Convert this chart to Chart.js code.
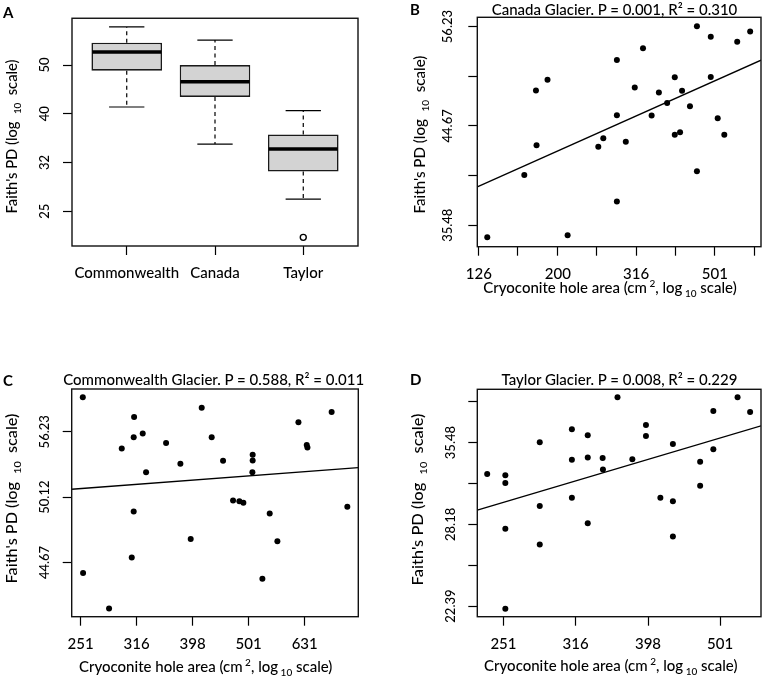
<!DOCTYPE html>
<html>
<head>
<meta charset="utf-8">
<title>Faith's PD and cryoconite hole area</title>
<script src="https://cdn.jsdelivr.net/npm/chart.js@4.4.1/dist/chart.umd.min.js"></script>
<style>
  html, body { margin: 0; padding: 0; background: #fff; }
  #fig { position: relative; width: 765px; height: 679px; overflow: hidden; font-family: Lato, sans-serif; font-weight: 500; color: #000; }
  #fig canvas { position: absolute; }
  .txt { position: absolute; white-space: nowrap; line-height: 1; font-size: 15px; }
  .letter { font-weight: 700; font-size: 15px; }
  .mid { transform: translate(-50%, -50%); }
  .ytitle { transform-origin: 50% 50%; }
  sub, sup { font-size: 10px; line-height: 0; }
</style>
</head>
<body>
<div id="fig">
  <canvas id="chartA" width="380" height="330" style="left:0;top:0"></canvas>
  <canvas id="chartB" width="385" height="330" style="left:380px;top:0"></canvas>
  <canvas id="chartC" width="380" height="349" style="left:0;top:330px"></canvas>
  <canvas id="chartD" width="385" height="349" style="left:380px;top:330px"></canvas>

  <div class="txt letter" style="left:3px;top:4.5px">A</div>
  <div class="txt letter" style="left:410px;top:1.5px">B</div>
  <div class="txt letter" style="left:3px;top:372.5px">C</div>
  <div class="txt letter" style="left:410px;top:371.5px">D</div>

  <div class="txt mid" style="left:614.5px;top:8.5px">Canada Glacier. P = 0.001, R² = 0.310</div>
  <div class="txt mid" style="left:213.7px;top:378.5px">Commonwealth Glacier. P = 0.588, R² = 0.011</div>
  <div class="txt mid" style="left:619.5px;top:378.5px">Taylor Glacier. P = 0.008, R² = 0.229</div>

  <div class="txt mid" style="left:610px;top:286.5px">Cryoconite hole area (cm<sup>&nbsp;2</sup>, log<sub>&nbsp;10</sub> scale)</div>
  <div class="txt mid" style="left:205.7px;top:666px">Cryoconite hole area (cm<sup>&nbsp;2</sup>, log<sub>&nbsp;10</sub> scale)</div>
  <div class="txt mid" style="left:610.8px;top:665px">Cryoconite hole area (cm<sup>&nbsp;2</sup>, log<sub>&nbsp;10</sub> scale)</div>

  <div class="txt ytitle" data-cx="11" data-cy="136" data-len="154">Faith's PD (log&nbsp;&nbsp;<sub>10</sub>&nbsp;&nbsp;scale)</div>
  <div class="txt ytitle" data-cx="419" data-cy="134" data-len="158">Faith's PD (log&nbsp;&nbsp;<sub>10</sub>&nbsp;&nbsp;scale)</div>
  <div class="txt ytitle" data-cx="11" data-cy="498" data-len="170">Faith's PD (log&nbsp;&nbsp;<sub>10</sub>&nbsp;&nbsp;scale)</div>
  <div class="txt ytitle" data-cx="417.5" data-cy="499" data-len="172">Faith's PD (log&nbsp;&nbsp;<sub>10</sub>&nbsp;&nbsp;scale)</div>
</div>

<script>
/* =============================================
   DATA
   ============================================= */
// Panel A: box plot summary per glacier (Faith's PD)
const groups   = ['Commonwealth', 'Canada', 'Taylor'];
const boxLow   = [41.1, 34.5, 26.6];
const boxQ1    = [48.8, 43.1, 30.3];
const boxMed   = [53.3, 46.3, 33.7];
const boxQ3    = [55.7, 50.1, 36.1];
const boxHigh  = [60.0, 56.4, 40.4];
const outlierGroup = [3];
const outlierPD    = [22.2];
const aYTicks  = [25.12, 31.62, 39.81, 50.12];
const aYLabels = ['25', '32', '40', '50'];

// Panel B: Canada Glacier
const canadaArea = [132.4, 164.4, 176.0, 176.6, 188.3, 211.8, 253.4, 260.9, 282.5, 282.5,
                    282.5, 297.6, 313.6, 329.1, 346.1, 361.1, 379.0, 396.3, 396.3, 408.7,
                    413.5, 433.1, 451.1, 451.1, 489.1, 489.1, 509.4, 529.4, 570.9, 615.8];
const canadaPD   = [34.50, 39.87, 48.48, 42.72, 49.70, 34.67, 42.55, 43.41, 52.05, 45.79,
                    37.49, 43.05, 48.83, 53.48, 45.76, 48.26, 47.11, 50.01, 43.75, 44.02,
                    48.45, 46.75, 56.27, 40.21, 54.91, 50.04, 45.47, 43.75, 54.28, 55.59];
const bXTicks  = [126, 158, 200, 251, 316, 398, 501, 631];
const bXLabels = ['126', '', '200', '', '316', '', '501', ''];
const bYTicks  = [35.48, 39.81, 44.67, 50.12, 56.23];
const bYLabels = ['35.48', '', '44.67', '', '56.23'];

// Panel C: Commonwealth Glacier
const cwArea = [253.3, 253.6, 282.2, 297.3, 309.8, 312.3, 312.8, 312.3, 324.1, 328.6,
                356.8, 378.4, 394.8, 413.1, 430.4, 451.0, 469.9, 482.3, 490.3, 508.8,
                509.4, 509.4, 530.2, 546.4, 563.9, 614.9, 636.3, 638.1, 704.9, 751.9];
const cwPD   = [59.75, 43.84, 41.19, 54.60, 45.07, 55.68, 57.70, 48.87, 56.07, 52.37,
                55.12, 53.15, 46.55, 58.67, 55.69, 53.43, 49.83, 49.75, 49.63, 52.37,
                53.46, 53.99, 43.41, 48.70, 46.38, 57.17, 54.94, 54.69, 58.23, 49.28];
const cXTicks  = [251, 316, 398, 501, 631];
const cXLabels = ['251', '316', '398', '501', '631'];
const cYTicks  = [44.67, 50.12, 56.23];
const cYLabels = ['44.67', '50.12', '56.23'];

// Panel D: Taylor Glacier
const taylorArea = [238.3, 252.5, 252.5, 252.5, 252.5, 281.8, 281.8, 281.8, 312.2, 312.2,
                    312.2, 328.4, 328.4, 328.4, 344.4, 344.7, 361.1, 378.6, 395.4, 395.4,
                    414.0, 430.9, 430.9, 430.9, 470.0, 470.0, 490.2, 490.2, 529.6, 551.2];
const taylorPD   = [32.47, 32.36, 31.66, 27.84, 22.22, 35.50, 29.68, 26.63, 36.83, 33.81,
                    30.38, 36.21, 34.03, 28.26, 33.97, 32.90, 40.30, 33.84, 37.28, 36.14,
                    30.38, 35.33, 30.07, 27.24, 33.62, 31.42, 38.78, 34.81, 40.30, 38.67];
const dXTicks  = [251, 316, 398, 501];
const dXLabels = ['251', '316', '398', '501'];
const dYTicks  = [22.39, 25.12, 28.18, 31.62, 35.48, 39.81];
const dYLabels = ['22.39', '', '28.18', '', '35.48', ''];

/* =============================================
   LAYOUT (plot area inside each canvas + axis limits)
   ============================================= */
const FONT = 'Lato';
const WEIGHT = 500;
const X_TICK_SIZE = 15;
const Y_TICK_SIZE = 13;
const TICK_LEN = 9;

const geoA = { w: 380, h: 330, left: 72,   top: 17,   right: 358,   bottom: 246,   yLabOff: 27 };
const geoB = { w: 385, h: 330, left: 97.3, top: 17.3, right: 383.5, bottom: 246.7, yLabOff: 29 };
const geoC = { w: 380, h: 349, left: 71.7, top: 59,   right: 358.3, bottom: 286.7, yLabOff: 26.5 };
const geoD = { w: 385, h: 349, left: 97.3, top: 59.3, right: 383.3, bottom: 286.7, yLabOff: 26.5 };

const rangeA = { x: [0.38, 3.62],   y: [21.31, 62.52] };
const rangeB = { x: [124.9, 656.1], y: [33.76, 57.45] };
const rangeC = { x: [242.0, 786.6], y: [40.60, 60.63] };
const rangeD = { x: [230.9, 570.7], y: [21.73, 41.22] };

/* =============================================
   HELPERS
   ============================================= */
const measureCtx = document.createElement('canvas').getContext('2d');
function textWidth(str, size) {
  measureCtx.font = `${WEIGHT} ${size}px ${FONT}`;
  return measureCtx.measureText(str).width;
}

// least squares line in log-log space, drawn across the whole x range
function fitLine(xs, ys, xMin, xMax) {
  const lx = xs.map(Math.log10), ly = ys.map(Math.log10);
  const n = lx.length;
  const mx = lx.reduce((a, b) => a + b, 0) / n;
  const my = ly.reduce((a, b) => a + b, 0) / n;
  let sxy = 0, sxx = 0;
  for (let i = 0; i < n; i++) {
    sxy += (lx[i] - mx) * (ly[i] - my);
    sxx += (lx[i] - mx) ** 2;
  }
  const slope = sxy / sxx, icpt = my - slope * mx;
  return [xMin, xMax].map(x => ({ x, y: Math.pow(10, icpt + slope * Math.log10(x)) }));
}

const tickGrid = {
  display: true, drawOnChartArea: false, drawTicks: true, offset: false,
  tickLength: TICK_LEN, tickColor: '#000', tickWidth: 1.2,
};

function xAxis(type, range, ticks, labels, geo) {
  return {
    type, min: range[0], max: range[1], bounds: 'data', offset: false,
    afterBuildTicks: s => { s.ticks = ticks.map(v => ({ value: v })); },
    afterFit: s => { s.height = geo.h - geo.bottom; },
    grid: tickGrid,
    border: { display: false },
    ticks: {
      autoSkip: false, minRotation: 0, maxRotation: 0, padding: 9, color: '#000',
      font: { family: FONT, size: X_TICK_SIZE, weight: WEIGHT },
      callback: (v, i) => labels[i],
    },
  };
}

function yAxis(range, ticks, labels, geo) {
  const widest = Math.max(...labels.map(l => textWidth(l, Y_TICK_SIZE)));
  return {
    type: 'logarithmic', min: range[0], max: range[1], bounds: 'data', beginAtZero: false,
    afterBuildTicks: s => { s.ticks = ticks.map(v => ({ value: v })); },
    afterFit: s => { s.width = geo.left; },
    grid: tickGrid,
    border: { display: false },
    ticks: {
      autoSkip: false, minRotation: 90, maxRotation: 90, crossAlign: 'center',
      padding: geo.yLabOff - TICK_LEN - widest / 2, color: '#000',
      font: { family: FONT, size: Y_TICK_SIZE, weight: WEIGHT },
      callback: (v, i) => labels[i],
    },
  };
}

function baseOptions(geo, x, y) {
  return {
    responsive: false,
    animation: false,
    events: [],
    layout: { padding: { left: 0, top: geo.top, right: geo.w - geo.right, bottom: 0 } },
    plugins: { legend: { display: false }, tooltip: { enabled: false }, title: { display: false } },
    scales: { x, y },
  };
}

/* plot frame, as in base R graphics */
const frame = {
  id: 'frame',
  afterDraw(chart) {
    const { ctx, chartArea: a } = chart;
    ctx.save();
    ctx.strokeStyle = '#111';
    ctx.lineWidth = 1.4;
    ctx.strokeRect(a.left, a.top, a.right - a.left, a.bottom - a.top);
    ctx.restore();
  },
};

/* =============================================
   PANEL A — box plots
   ============================================= */
const whiskers = {
  id: 'whiskers',
  afterDatasetsDraw(chart) {
    const { ctx, scales: { x, y } } = chart;
    const boxes = chart.getDatasetMeta(0).data;
    const seg = (x1, y1, x2, y2) => { ctx.beginPath(); ctx.moveTo(x1, y1); ctx.lineTo(x2, y2); ctx.stroke(); };
    ctx.save();
    ctx.strokeStyle = '#000';
    groups.forEach((g, i) => {
      const cx = x.getPixelForValue(i + 1);
      const w = boxes[i].width;
      const yHi = y.getPixelForValue(boxHigh[i]), yLo = y.getPixelForValue(boxLow[i]);
      ctx.lineWidth = 1.2;
      ctx.setLineDash([4, 3.5]);
      seg(cx, y.getPixelForValue(boxQ3[i]), cx, yHi);
      seg(cx, y.getPixelForValue(boxQ1[i]), cx, yLo);
      ctx.setLineDash([]);
      seg(cx - w / 4, yHi, cx + w / 4, yHi);
      seg(cx - w / 4, yLo, cx + w / 4, yLo);
      ctx.lineWidth = 3.4;
      const yMed = y.getPixelForValue(boxMed[i]);
      seg(cx - w / 2 + 0.8, yMed, cx + w / 2 - 0.8, yMed);
    });
    ctx.restore();
  },
};

const xA = xAxis('linear', rangeA.x, [1, 2, 3], groups, geoA);
new Chart(document.getElementById('chartA'), {
  type: 'bar',
  data: {
    datasets: [
      {
        type: 'bar',
        data: groups.map((g, i) => ({ x: i + 1, y: [boxQ1[i], boxQ3[i]] })),
        backgroundColor: '#d3d3d3',
        borderColor: '#1a1a1a',
        borderWidth: 1.6,
        borderSkipped: false,
        categoryPercentage: 1,
        barPercentage: 0.8,
      },
      {
        type: 'scatter',
        data: outlierGroup.map((g, i) => ({ x: g, y: outlierPD[i] })),
        pointRadius: 3,
        backgroundColor: '#fff',
        borderColor: '#000',
        borderWidth: 1.4,
      },
    ],
  },
  options: baseOptions(geoA, xA, yAxis(rangeA.y, aYTicks, aYLabels, geoA)),
  plugins: [whiskers, frame],
});

/* =============================================
   PANELS B, C, D — scatter + fitted line
   ============================================= */
function scatterPanel(id, geo, range, xs, ys, xT, xL, yT, yL) {
  return new Chart(document.getElementById(id), {
    type: 'scatter',
    data: {
      datasets: [
        {
          data: xs.map((x, i) => ({ x, y: ys[i] })),
          pointRadius: 3,
          backgroundColor: '#000',
          borderWidth: 0,
        },
        {
          data: fitLine(xs, ys, range.x[0], range.x[1]),
          showLine: true,
          pointRadius: 0,
          borderColor: '#000',
          borderWidth: 1.3,
        },
      ],
    },
    options: baseOptions(geo,
      xAxis('logarithmic', range.x, xT, xL, geo),
      yAxis(range.y, yT, yL, geo)),
    plugins: [frame],
  });
}

scatterPanel('chartB', geoB, rangeB, canadaArea, canadaPD, bXTicks, bXLabels, bYTicks, bYLabels);
scatterPanel('chartC', geoC, rangeC, cwArea, cwPD, cXTicks, cXLabels, cYTicks, cYLabels);
scatterPanel('chartD', geoD, rangeD, taylorArea, taylorPD, dXTicks, dXLabels, dYTicks, dYLabels);

/* =============================================
   Y TITLES — rotate and fit to the measured length
   ============================================= */
document.querySelectorAll('.ytitle').forEach(el => {
  const w = el.offsetWidth, h = el.offsetHeight;
  const k = +el.dataset.len / w;
  el.style.left = (+el.dataset.cx - w / 2) + 'px';
  el.style.top = (+el.dataset.cy - h / 2) + 'px';
  el.style.transform = `rotate(-90deg) scaleX(${k})`;
});
</script>
</body>
</html>
